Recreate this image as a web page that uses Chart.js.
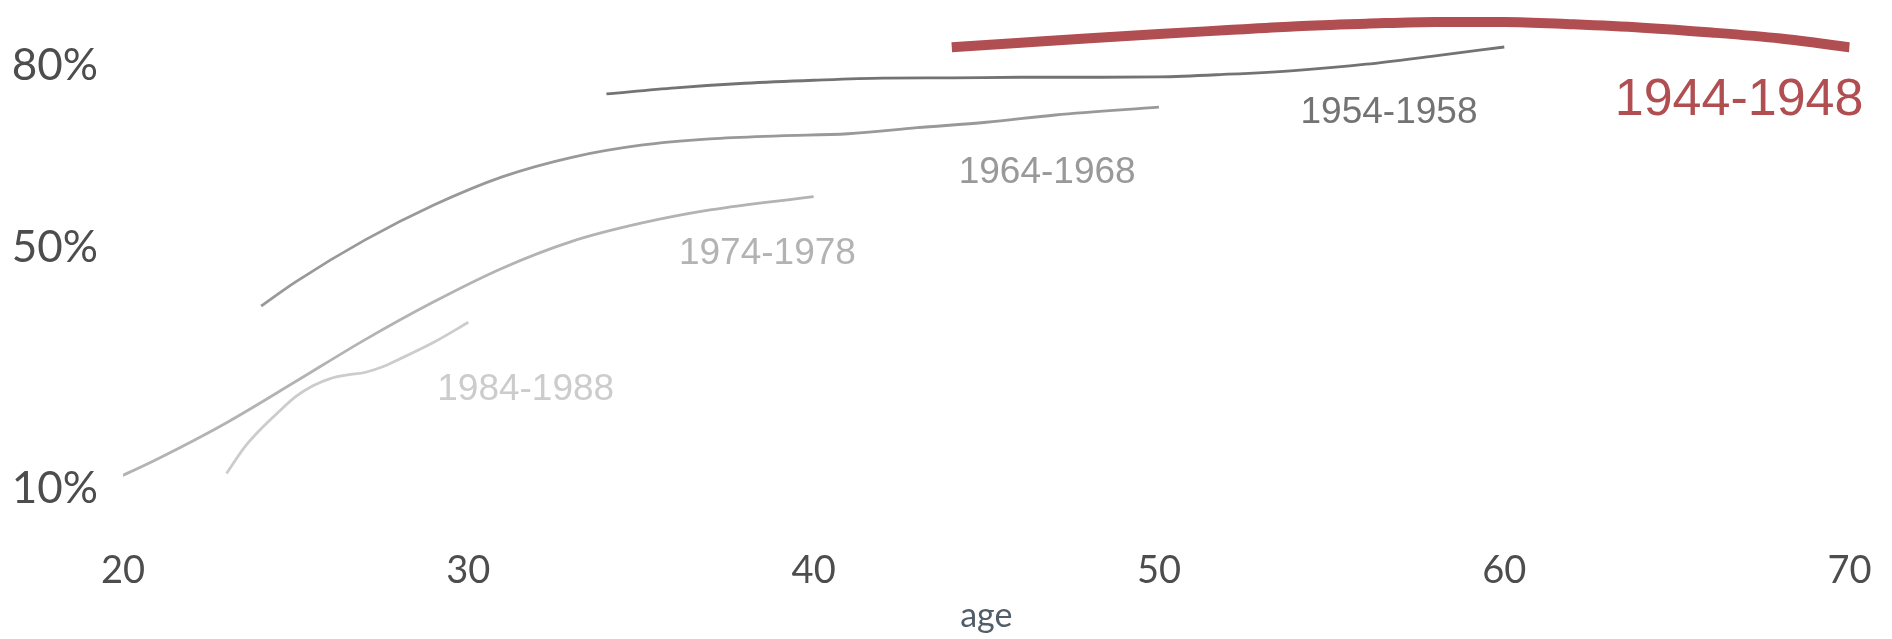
<!DOCTYPE html>
<html>
<head>
<meta charset="utf-8">
<script src="https://cdn.jsdelivr.net/npm/chart.js@4.4.1/dist/chart.umd.min.js"></script>
<style>
  html, body { margin: 0; padding: 0; background: #ffffff; }
  #chart { display: block; }
</style>
</head>
<body>
<canvas id="chart" width="1892" height="639"></canvas>
<script>
// cohorts (birth years), one line each
const cohorts = ['1944-1948', '1954-1958', '1964-1968', '1974-1978', '1984-1988'];

// age / share pairs
const ages1944 = [44, 46, 48, 50, 52, 54, 56, 58, 60, 62, 64, 66, 68, 70];
const share1944 = [83.1, 83.85, 84.6, 85.3, 85.95, 86.6, 87.0, 87.3, 87.3, 86.9, 86.35, 85.55, 84.55, 83.1];

const ages1954 = [34, 36, 38, 40, 42, 44, 46, 48, 50, 52, 54, 56, 58, 60];
const share1954 = [75.4, 76.4, 77.15, 77.65, 78.0, 78.05, 78.15, 78.15, 78.2, 78.65, 79.3, 80.3, 81.7, 83.15];

const ages1964 = [24, 25, 27, 29, 31, 33, 35, 37, 39, 41, 43, 45, 47, 50];
const share1964 = [40.3, 44.3, 51.2, 57.0, 61.7, 64.9, 66.9, 67.95, 68.45, 68.8, 69.8, 70.7, 71.9, 73.2];

const ages1974 = [19.7, 21, 23, 25, 27, 29, 31, 33, 35, 37, 40];
const share1974 = [11.5, 15.0, 21.0, 27.8, 34.7, 41.0, 46.6, 51.0, 54.0, 56.2, 58.4];

const ages1984 = [23, 23.5, 24, 24.5, 25, 25.5, 26, 26.5, 27, 27.5, 28, 29, 30];
const share1984 = [12.6, 16.8, 20.0, 22.75, 25.3, 27.1, 28.3, 28.9, 29.3, 30.2, 31.5, 34.3, 37.6];

// axis ticks
const xTicks = [20, 30, 40, 50, 60, 70];
const yTicks = [10, 50, 80];

// where each cohort name sits (age, share at text baseline)
const labelAges = [63.2, 54.1, 44.2, 36.1, 29.1];
const labelShares = [71.9, 70.6, 60.7, 47.2, 24.7];

// styles
const lineColors = ['#b04e51', '#737373', '#999999', '#b3b3b3', '#cccccc'];
const lineWidths = [10, 2.8, 2.8, 2.8, 2.8];
const labelSizes = [52, 37, 37, 37, 37];
const tickColor = '#4d4d4d';

const allAges = [ages1944, ages1954, ages1964, ages1974, ages1984];
const allShares = [share1944, share1954, share1964, share1974, share1984];

function toPoints(xs, ys) {
    return xs.map((x, i) => ({ x: x, y: ys[i] }));
}

// cohort names next to the lines
const seriesLabels = {
    id: 'seriesLabels',
    afterDatasetsDraw(chart) {
        const { ctx, scales } = chart;
        ctx.save();
        ctx.textAlign = 'left';
        ctx.textBaseline = 'alphabetic';
        cohorts.forEach((name, i) => {
            ctx.font = labelSizes[i] + 'px "Liberation Sans", Arial, sans-serif';
            ctx.fillStyle = lineColors[i];
            ctx.fillText(name,
                scales.x.getPixelForValue(labelAges[i]),
                scales.y.getPixelForValue(labelShares[i]));
        });
        ctx.restore();
    }
};

// the axes should not push the plot area around for their end labels
function noEdgePadding(scale) {
    scale.paddingTop = 0;
    scale.paddingBottom = 0;
    scale.paddingLeft = 0;
    scale.paddingRight = 0;
}

const ctx = document.getElementById('chart').getContext('2d');
new Chart(ctx, {
    type: 'line',
    data: {
        datasets: cohorts.map((name, i) => ({
            label: name,
            data: toPoints(allAges[i], allShares[i]),
            borderColor: lineColors[i],
            borderWidth: lineWidths[i],
            pointRadius: 0,
            fill: false,
            cubicInterpolationMode: 'monotone'
        })).reverse()
    },
    options: {
        responsive: false,
        animation: false,
        devicePixelRatio: 1,
        layout: { padding: { top: 5.6, right: 42.4, left: 0, bottom: 0 } },
        plugins: {
            legend: { display: false },
            tooltip: { enabled: false }
        },
        scales: {
            x: {
                type: 'linear',
                min: 20,
                max: 70,
                afterBuildTicks: (scale) => { scale.ticks = xTicks.map(v => ({ value: v })); },
                afterFit: (scale) => { scale.height = 89.4; noEdgePadding(scale); },
                grid: { display: false, drawTicks: false },
                border: { display: false },
                ticks: {
                    color: tickColor,
                    font: { family: 'Lato', size: 38 },
                    padding: -2,
                    maxRotation: 0
                },
                title: {
                    display: true,
                    text: 'age',
                    color: '#515e69',
                    font: { family: 'Lato', size: 34 },
                    padding: { top: 0, bottom: 3 }
                }
            },
            y: {
                type: 'linear',
                min: 0,
                max: 90,
                afterBuildTicks: (scale) => { scale.ticks = yTicks.map(v => ({ value: v })); },
                afterFit: (scale) => { scale.width = 123; noEdgePadding(scale); },
                grid: { display: false, drawTicks: false },
                border: { display: false },
                ticks: {
                    color: tickColor,
                    font: { family: 'Lato', size: 44 },
                    padding: 25,
                    callback: (v) => v + '%'
                }
            }
        }
    },
    plugins: [seriesLabels]
});
</script>
</body>
</html>
